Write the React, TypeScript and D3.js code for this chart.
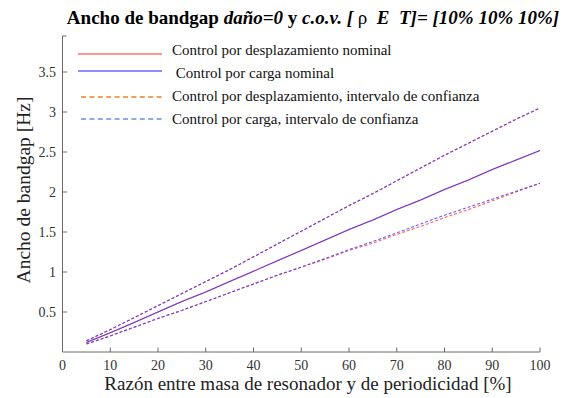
import React from 'react';
import * as d3 from 'd3';

// razón de masa [%]
const ratios = [5, 10, 15, 20, 25, 30, 35, 40, 45, 50, 55, 60, 65, 70, 75, 80, 85, 90, 95, 100];

// ancho de bandgap [Hz]
const dispNominal = [0.12, 0.24, 0.37, 0.5, 0.63, 0.75, 0.88, 1.01, 1.14, 1.27, 1.4, 1.53, 1.65, 1.78, 1.9, 2.03, 2.15, 2.28, 2.4, 2.52];
const loadNominal = [0.12, 0.24, 0.37, 0.5, 0.63, 0.75, 0.88, 1.01, 1.14, 1.27, 1.4, 1.53, 1.65, 1.78, 1.9, 2.03, 2.15, 2.28, 2.4, 2.52];
const dispUpper = [0.14, 0.28, 0.43, 0.58, 0.73, 0.88, 1.03, 1.19, 1.35, 1.51, 1.67, 1.83, 1.98, 2.14, 2.3, 2.46, 2.61, 2.76, 2.91, 3.05];
const loadUpper = [0.14, 0.28, 0.43, 0.58, 0.73, 0.88, 1.03, 1.19, 1.35, 1.51, 1.67, 1.83, 1.98, 2.14, 2.3, 2.46, 2.61, 2.76, 2.91, 3.05];
const dispLower = [0.1, 0.2, 0.31, 0.42, 0.52, 0.63, 0.74, 0.85, 0.96, 1.06, 1.16, 1.27, 1.36, 1.47, 1.57, 1.68, 1.78, 1.89, 2.0, 2.11];
const loadLower = [0.1, 0.2, 0.31, 0.42, 0.52, 0.63, 0.74, 0.85, 0.96, 1.06, 1.17, 1.28, 1.38, 1.49, 1.6, 1.71, 1.81, 1.91, 2.01, 2.11];

const xTicks = [0, 10, 20, 30, 40, 50, 60, 70, 80, 90, 100];
const yTicks = [0.5, 1, 1.5, 2, 2.5, 3, 3.5];

const legendLabels = [
  'Control por desplazamiento nominal',
  ' Control por carga nominal',
  'Control por desplazamiento, intervalo de confianza',
  'Control por carga, intervalo de confianza',
];

const W = 587;
const H = 398;
const font = 'Liberation Serif';

export default function App() {
  const x = d3.scaleLinear().domain([0, 100]).range([62.5, 540]);
  const y = d3.scaleLinear().domain([0, 3.95]).range([352, 36]);

  const line = d3
    .line<number>()
    .x((_, i) => x(ratios[i]))
    .y((d) => y(d));

  const red = '#ff3030';
  const blue = '#3a2cff';

  const series = [
    { data: dispUpper, color: red, dash: '3 2' },
    { data: dispLower, color: red, dash: '3 2' },
    { data: dispNominal, color: red, dash: null },
    { data: loadUpper, color: blue, dash: '3 2' },
    { data: loadLower, color: blue, dash: '3 2' },
    { data: loadNominal, color: blue, dash: null },
  ];

  const legendStyle = [
    { color: '#ff7070', dash: null, ly: 54, ty: 55 },
    { color: '#6868ff', dash: null, ly: 71, ty: 78 },
    { color: '#f0802c', dash: '5 3.4', ly: 97, ty: 101 },
    { color: '#6a92d2', dash: '5 3.4', ly: 119, ty: 124 },
  ];

  const axisColor = '#6a6a6a';

  return (
    <div style={{ position: 'fixed', left: 0, top: 0 }}>
      <svg width={W} height={H} style={{ display: 'block', background: '#fff', fontFamily: font }}>
        {/* título */}
        <text
          x={313}
          y={24}
          textAnchor="middle"
          fontSize={19}
          fontWeight="bold"
          fill="#000"
          style={{ whiteSpace: 'pre', fontFamily: font }}
        >
          <tspan>Ancho de bandgap </tspan>
          <tspan fontStyle="italic">daño=0</tspan>
          <tspan> y </tspan>
          <tspan fontStyle="italic">c.o.v. [ </tspan>
          <tspan fontWeight="normal">ρ</tspan>
          <tspan fontStyle="italic">{'  E  T]= [10% 10% 10%]'}</tspan>
        </text>

        {/* curvas */}
        {series.map((s, i) => (
          <path
            key={i}
            d={line(s.data) ?? ''}
            fill="none"
            stroke={s.color}
            strokeWidth={1.1}
            strokeOpacity={0.75}
            strokeDasharray={s.dash ?? undefined}
          />
        ))}

        {/* ejes */}
        <line x1={x(0)} x2={x(0)} y1={y(3.95)} y2={y(0)} stroke={axisColor} strokeWidth={1} />
        <line x1={x(0)} x2={x(100)} y1={y(0)} y2={y(0)} stroke={axisColor} strokeWidth={1} />
        <line x1={x(0)} x2={x(0) + 4} y1={y(3.95)} y2={y(3.95)} stroke={axisColor} strokeWidth={1} />
        {xTicks.map((t) => (
          <g key={t}>
            <line x1={x(t)} x2={x(t)} y1={y(0)} y2={y(0) - 4.5} stroke={axisColor} />
            <text x={x(t)} y={370} textAnchor="middle" fontSize={14} fill="#333" style={{ fontFamily: font }}>
              {t}
            </text>
          </g>
        ))}
        {yTicks.map((t) => (
          <g key={t}>
            <line x1={x(0)} x2={x(0) + 4.5} y1={y(t)} y2={y(t)} stroke={axisColor} />
            <text x={56} y={y(t) + 5} textAnchor="end" fontSize={14} fill="#333" style={{ fontFamily: font }}>
              {t}
            </text>
          </g>
        ))}

        {/* etiquetas de ejes */}
        <text x={308} y={390} textAnchor="middle" fontSize={19} fill="#222" style={{ fontFamily: font }}>
          Razón entre masa de resonador y de periodicidad [%]
        </text>
        <text
          transform={`translate(30,${y(2) - 2}) rotate(-90)`}
          textAnchor="middle"
          fontSize={19.5}
          fill="#222"
          style={{ fontFamily: font }}
        >
          Ancho de bandgap [Hz]
        </text>

        {/* leyenda */}
        {legendLabels.map((lab, i) => {
          const st = legendStyle[i];
          return (
            <g key={lab}>
              <line
                x1={st.dash ? 81 : 78}
                x2={162}
                y1={st.ly}
                y2={st.ly}
                stroke={st.color}
                strokeWidth={1.3}
                strokeDasharray={st.dash ?? undefined}
              />
              <text x={172} y={st.ty} fontSize={15} fill="#111" style={{ whiteSpace: 'pre', fontFamily: font }}>
                {lab}
              </text>
            </g>
          );
        })}
      </svg>
    </div>
  );
}
